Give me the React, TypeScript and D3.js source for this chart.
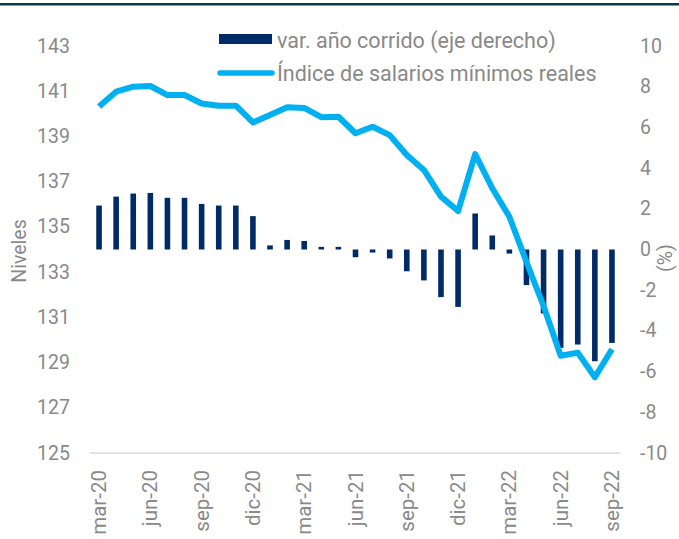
import React from "react";
import * as d3 from "d3";

const categories = [
  "mar-20","abr-20","may-20","jun-20","jul-20","ago-20","sep-20","oct-20","nov-20","dic-20",
  "ene-21","feb-21","mar-21","abr-21","may-21","jun-21","jul-21","ago-21","sep-21","oct-21","nov-21","dic-21",
  "ene-22","feb-22","mar-22","abr-22","may-22","jun-22","jul-22","ago-22","sep-22",
];
const varAnoCorrido = [
  2.16, 2.6, 2.75, 2.78, 2.54, 2.54, 2.24, 2.16, 2.16, 1.64,
  0.2, 0.47, 0.42, 0.13, 0.13, -0.38, -0.15, -0.44, -1.07, -1.52, -2.34, -2.82,
  1.77, 0.69, -0.2, -1.75, -3.14, -4.83, -4.67, -5.49, -4.59,
];
const indiceSalarios = [
  140.32, 140.98, 141.2, 141.23, 140.83, 140.83, 140.46, 140.36, 140.36, 139.62,
  139.95, 140.29, 140.26, 139.85, 139.87, 139.14, 139.43, 139.06, 138.18, 137.52, 136.34, 135.7,
  138.22, 136.71, 135.45, 133.45, 131.5, 129.3, 129.44, 128.35, 129.59,
];
const leftTicks = [125, 127, 129, 131, 133, 135, 137, 139, 141, 143];
const rightTicks = [-10, -8, -6, -4, -2, 0, 2, 4, 6, 8, 10];
const xTickLabels = ["mar-20","jun-20","sep-20","dic-20","mar-21","jun-21","sep-21","dic-21","mar-22","jun-22","sep-22"];
const legendBar = "var. año corrido (eje derecho)";
const legendLine = "Índice de salarios mínimos reales";

const W = 679, H = 539;
const FONT = "Roboto, 'Noto Sans', sans-serif";
const GREY = "#898989";
const BAR = "#002b66";
const LINE = "#00b0f0";

export default function App() {
  const x = d3.scaleBand<string>().domain(categories).range([90.5, 620.5]).padding(0);
  const yL = d3.scaleLinear().domain([125, 143]).range([453, 46]);
  const yR = d3.scaleLinear().domain([-10, 10]).range([453, 46]);
  const barW = 5.6;
  const cx = (c: string) => (x(c) as number) + x.bandwidth() / 2;
  const line = d3
    .line<number>()
    .x((_, i) => cx(categories[i]))
    .y((d) => yL(d));

  return (
    <svg width={W} height={H} style={{ position: "absolute", left: 0, top: 0, background: "#fff" }} fontFamily={FONT}>
      <rect x={0} y={3} width={W} height={2.5} fill="#0a3a4a" />
      {/* axis line */}
      <line x1={90} x2={620} y1={yL(125)} y2={yL(125)} stroke="#d9d9d9" strokeWidth={1.5} />
      {/* bars */}
      {varAnoCorrido.map((v, i) => {
        const y0 = yR(0), y1 = yR(v);
        return (
          <rect key={i} x={cx(categories[i]) - barW / 2} y={Math.min(y0, y1)} width={barW}
            height={Math.abs(y1 - y0)} fill={BAR} />
        );
      })}
      {/* line */}
      <path d={line(indiceSalarios) || ""} fill="none" stroke={LINE} strokeWidth={6} strokeLinejoin="round" />
      {/* left ticks */}
      {leftTicks.map((t) => (
        <text key={t} x={70} y={yL(t)} textAnchor="end" dominantBaseline="central" fontSize={19.5} fill={GREY}>{t}</text>
      ))}
      {rightTicks.map((t) => (
        <text key={t} x={640} y={yR(t)} textAnchor="start" dominantBaseline="central" fontSize={19.5} fill={GREY}>{t}</text>
      ))}
      {/* x labels */}
      {xTickLabels.map((c) => (
        <text key={c} transform={`translate(${cx(c)},470) rotate(-90)`} textAnchor="end" dominantBaseline="central"
          fontSize={20.5} fill={GREY}>{c}</text>
      ))}
      {/* axis titles */}
      <text transform={`translate(19,251) rotate(-90)`} textAnchor="middle" dominantBaseline="central" fontSize={19.5} fill={GREY}>Niveles</text>
      <text transform={`translate(665,258) rotate(-90)`} textAnchor="middle" dominantBaseline="central" fontSize={19.5} fill={GREY}>(%)</text>
      {/* legend */}
      <rect x={219} y={34} width={53} height={10} fill={BAR} />
      <text x={277} y={40} dominantBaseline="central" fontSize={21.5} fill={GREY}>{legendBar}</text>
      <line x1={220} x2={272} y1={73} y2={73} stroke={LINE} strokeWidth={5.5} strokeLinecap="round" />
      <text x={277} y={73} dominantBaseline="central" fontSize={21.5} fill={GREY}>{legendLine}</text>
    </svg>
  );
}
